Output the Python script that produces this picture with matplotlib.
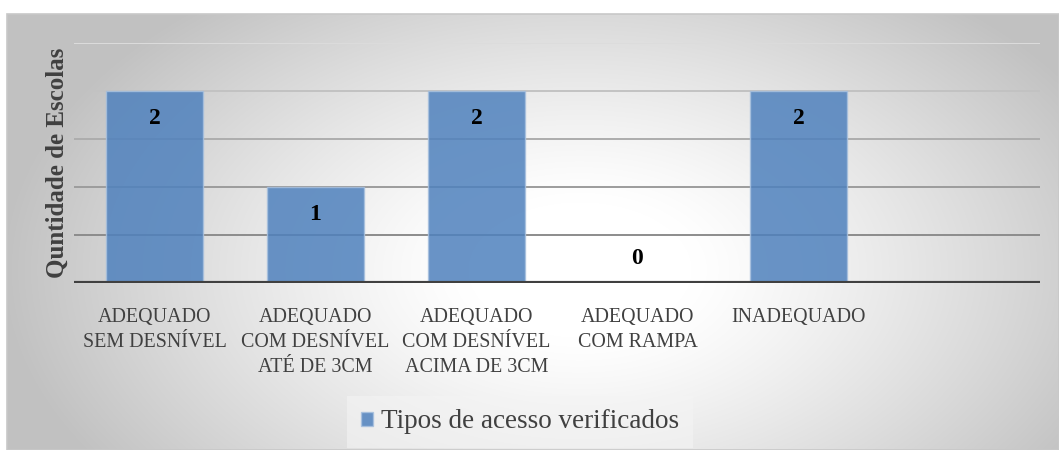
import numpy as np
import matplotlib
matplotlib.use("Agg")
import matplotlib.pyplot as plt
from matplotlib.patches import Rectangle, Patch

plt.rcParams["font.family"] = ["Liberation Serif", "DejaVu Serif"]

categories = ["ADEQUADO\nSEM DESNÍVEL", "ADEQUADO\nCOM DESNÍVEL\nATÉ DE 3CM",
              "ADEQUADO\nCOM DESNÍVEL\nACIMA DE 3CM", "ADEQUADO\nCOM RAMPA",
              "INADEQUADO", ""]
values = [2, 1, 2, 0, 2, None]
series_name = "Tipos de acesso verificados"
y_label = "Quntidade de Escolas"
y_ticks = [0, 0.5, 1.0, 1.5, 2.0, 2.5]

W, H = 1059, 450
fig = plt.figure(figsize=(W / 100, H / 100), dpi=100)
fig.patch.set_facecolor("white")

# background gradient (pixel coordinates)
bg = fig.add_axes([0, 0, 1, 1], zorder=-10)
bg.axis("off")
xx, yy = np.meshgrid(np.arange(7, W + 1), np.arange(14, H + 1))
r = np.sqrt(((xx - 580) / 560.0) ** 2 + ((yy - 270) / 340.0) ** 2)
t = np.clip((r - 0.2) / 0.8, 0, None)
c = np.clip(1 - 0.23 * t ** 1.2, 0.76, 1.0)
img = np.dstack([c, c, c])
bg.imshow(img, extent=(7, W, H, 14), aspect="auto", interpolation="bilinear")
bg.add_patch(Rectangle((7, 14), W - 7, H - 14, fill=False, edgecolor="#C8C8C8", lw=1.2))
bg.set_xlim(0, W)
bg.set_ylim(H, 0)

left, right = 74, 1040
top, base = 43, 283
ax = fig.add_axes([left / W, 1 - base / H, (right - left) / W, (base - top) / H])
ax.patch.set_alpha(0)

x = np.arange(len(categories))
grid_colors = ["#8C8C8C", "#9C9C9C", "#ADADAD", "#C2C2C2", "#DCDCDC"]
for tk, gc in zip(y_ticks[1:], grid_colors):
    ax.axhline(tk, color=gc, lw=1.4, zorder=1)

vals = [v if v is not None else 0 for v in values]
ax.bar(x, vals, width=0.6, color="#4F81BD", alpha=0.85,
       edgecolor="#A7C0DE", linewidth=1.0, zorder=2)

for xi, v in zip(x, values):
    if v is None:
        continue
    yv = v - 0.29 if v > 0 else 0.25
    ax.text(xi, yv, str(v), ha="center", va="center", fontsize=17,
            fontweight="bold", color="black", zorder=4)

ax.axhline(0, color="#404040", lw=3.0, zorder=3)
ax.set_xlim(-0.5, len(categories) - 0.5)
ax.set_ylim(0, 2.5)
ax.set_yticks([])
ax.set_xticks(x)
ax.set_xticklabels(categories, fontsize=14.4, color="#404040",
                   linespacing=1.42, va="top")
ax.tick_params(axis="x", length=0, pad=18)
for s in ax.spines.values():
    s.set_visible(False)

ax.set_ylabel(y_label, fontsize=18, fontweight="bold", color="#404040", labelpad=4)

leg = fig.legend(handles=[Patch(facecolor="#4F81BD", alpha=0.85, edgecolor="#A7C0DE")],
                 labels=[series_name], loc="center",
                 bbox_to_anchor=(520 / W, 1 - 422 / H), frameon=True,
                 prop={"size": 19.5},
                 handlelength=0.45, handleheight=0.45, handletextpad=0.3,
                 borderpad=0.5, fancybox=False)
leg.get_frame().set_facecolor("#F4F4F4")
leg.get_frame().set_alpha(0.6)
leg.get_frame().set_edgecolor("none")
for tt in leg.get_texts():
    tt.set_color("#404040")

fig.savefig("out.png", dpi=100, facecolor="white")
